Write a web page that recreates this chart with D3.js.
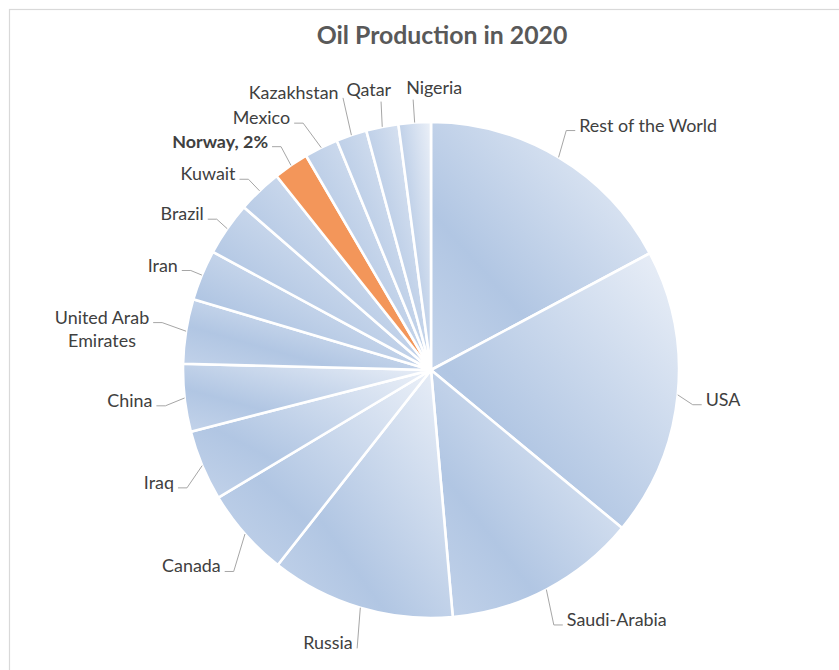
<!DOCTYPE html>
<html>
<head>
<meta charset="utf-8">
<script src="https://cdn.jsdelivr.net/npm/d3@7"></script>
<style>
  html, body { margin: 0; padding: 0; background: #ffffff; }
  svg { display: block; }
</style>
</head>
<body>
<svg id="chart" width="839" height="670"></svg>
<script>
// ---------------- data ----------------
const categories = ["Rest of the World", "USA", "Saudi-Arabia", "Russia", "Canada", "Iraq", "China",
  "United Arab Emirates", "Iran", "Brazil", "Kuwait", "Norway", "Mexico", "Kazakhstan", "Qatar", "Nigeria"];
const shares = [17.2, 18.8, 12.6, 12.0, 5.8, 4.6, 4.4, 4.2, 3.3, 3.5, 2.9, 2.3, 2.2, 2.0, 2.1, 2.1];
const highlight = "Norway";
const title = "Oil Production in 2020";

// label leader layout (radial leader length and angular nudge in degrees)
const labelExt   = [27, 16, 35, 40, 34, 23, 20, 25, 12, 14, 16, 21, 30, 38, 25, 23];
const labelShift = [-1.5, 1.8, 2, -1.7, -4.2, -3.1, -1.2, 1, 0, 0.4, 0, 0.5, -1.1, 0.8, 0.8, 0];

// ---------------- layout ----------------
const W = 839, H = 670;
const cx = 431, cy = 370, R = 248;
const fontFamily = "Lato, 'Open Sans', sans-serif";
const labelSize = 17.9;

const svg = d3.select("#chart");

// chart area border
svg.append("rect")
  .attr("x", 9.5).attr("y", 9.5).attr("width", 1000).attr("height", 1000)
  .attr("fill", "#ffffff").attr("stroke", "#d9d9d9").attr("stroke-width", 1.2);

const defs = svg.append("defs");
const grad = defs.append("linearGradient").attr("id", "blueGrad")
  .attr("x1", 1).attr("y1", 0).attr("x2", 0).attr("y2", 1);
grad.append("stop").attr("offset", 0).attr("stop-color", "#ebf0f8");
grad.append("stop").attr("offset", 0.68).attr("stop-color", "#b1c6e3");
grad.append("stop").attr("offset", 1).attr("stop-color", "#c3d3ea");

// title
svg.append("text")
  .attr("x", 442).attr("y", 44)
  .attr("text-anchor", "middle")
  .attr("font-family", fontFamily)
  .attr("font-weight", 700)
  .attr("font-size", 24.8)
  .attr("fill", "#595959")
  .text(title);

const data = categories.map((c, i) => ({ name: c, value: shares[i], i }));
const total = d3.sum(shares);

const pie = d3.pie().value(d => d.value).sort(null).startAngle(0).endAngle(2 * Math.PI);
const arcs = pie(data);
const arc = d3.arc().innerRadius(0).outerRadius(R);

const g = svg.append("g").attr("transform", `translate(${cx},${cy})`);

g.selectAll("path.slice")
  .data(arcs)
  .join("path")
  .attr("class", "slice")
  .attr("d", arc)
  .attr("fill", d => d.data.name === highlight ? "#f3965a" : "url(#blueGrad)")
  .attr("stroke", "#ffffff")
  .attr("stroke-width", 2.6)
  .attr("stroke-linejoin", "round");

// labels
const lg = g.append("g");
const deg = Math.PI / 180;
function pointAt(angle, radius) {
  const a = d3.arc().innerRadius(radius).outerRadius(radius).startAngle(angle).endAngle(angle);
  return a.centroid();
}

arcs.forEach((d, k) => {
  const mid = (d.startAngle + d.endAngle) / 2;
  const s = Math.sin(mid);
  const start = pointAt(mid, R);
  const elbow = pointAt(mid + labelShift[k] * deg, R + labelExt[k]);
  const isHi = d.data.name === highlight;
  const pct = Math.round(d.data.value / total * 100);
  const txt = isHi ? `${d.data.name}, ${pct}%` : d.data.name;

  let pts = [start, elbow];
  let tx, ty, anchor;
  const abs = Math.abs(s);
  if (abs >= 0.4) {
    const dir = s > 0 ? 1 : -1;
    const end = [elbow[0] + dir * 9, elbow[1]];
    pts.push(end);
    tx = end[0] + dir * 4; ty = end[1] + 1; anchor = dir > 0 ? "start" : "end";
  } else if (abs >= 0.25) {
    const dir = s > 0 ? 1 : -1;
    tx = elbow[0] + dir * 4.5; ty = elbow[1] + 1; anchor = dir > 0 ? "start" : "end";
  } else {
    ty = elbow[1] - 6;
    if (s > -0.1) { tx = elbow[0] - 7; anchor = "start"; }
    else { tx = elbow[0] + 10; anchor = "end"; }
  }

  lg.append("path")
    .attr("d", d3.line()(pts))
    .attr("fill", "none")
    .attr("stroke", "#a6a6a6")
    .attr("stroke-width", 1);

  const t = lg.append("text")
    .attr("font-family", fontFamily)
    .attr("font-size", labelSize)
    .attr("font-weight", isHi ? 700 : 400)
    .attr("fill", "#404040")
    .attr("x", tx).attr("y", ty)
    .attr("text-anchor", anchor)
    .text(txt);

  // wrap when the label would not fit inside the chart area
  const avail = anchor === "end" ? (cx + tx) - 20 : (W - (cx + tx)) - 10;
  const w = t.node().getComputedTextLength();
  if (w > avail) {
    const words = txt.split(" ");
    const lines = [];
    let cur = [];
    words.forEach(word => {
      const trial = cur.concat([word]).join(" ");
      t.text(trial);
      if (t.node().getComputedTextLength() > avail && cur.length) {
        lines.push(cur.join(" "));
        cur = [word];
      } else cur.push(word);
    });
    lines.push(cur.join(" "));
    t.text(null);
    const widths = lines.map(l => { t.text(l); return t.node().getComputedTextLength(); });
    t.text(null);
    const maxW = d3.max(widths);
    const midX = anchor === "end" ? tx - maxW / 2 : tx + maxW / 2;
    t.attr("text-anchor", "middle");
    lines.forEach((l, j) => {
      t.append("tspan").attr("x", midX).attr("y", ty + j * 23.5).text(l);
    });
  }
});
</script>
</body>
</html>
